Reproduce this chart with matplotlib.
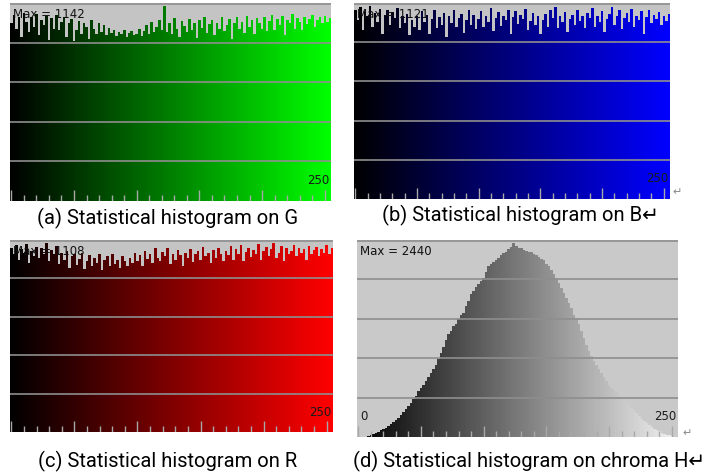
import numpy as np
import matplotlib
matplotlib.use("Agg")
import matplotlib.pyplot as plt

# histogram bins (2 grey levels per bar), 0..255
bins = np.arange(0, 256, 2)

# (a) G channel counts
hist_g = [
    1040, 1090, 1010, 1075, 960, 1100, 1050, 990, 1080, 1020,
    1095, 970, 1060, 1030, 1085, 945, 1070, 1010, 1090, 1000,
    1050, 1080, 960, 1040, 1065, 935, 1000, 1055, 980, 1045,
    1020, 950, 1060, 1005, 975, 1040, 990, 1030, 970, 1015,
    985, 1000, 965, 990, 975, 1000, 960, 985, 995, 970,
    980, 1010, 965, 995, 1030, 975, 1050, 990, 1020, 1060,
    1000, 1142, 990, 1045, 980, 1070, 1010, 960, 1055, 1025,
    990, 1065, 1000, 1040, 955, 1060, 1015, 1075, 985, 1035,
    1060, 970, 1045, 1010, 1080, 995, 1030, 1065, 950, 1040,
    1075, 1005, 1050, 985, 1085, 1020, 1060, 975, 1070, 1040,
    1010, 1080, 995, 1055, 1090, 1000, 1065, 1030, 1085, 970,
    1060, 1040, 1095, 1010, 1070, 1050, 1000, 1080, 1035, 1065,
    1090, 1020, 1060, 1075, 1040, 1085, 1050, 1070,
]

# (b) B channel counts
hist_b = [
    1100, 1040, 1115, 980, 1090, 1060, 1121, 1000, 1080, 1030,
    1105, 960, 1070, 1095, 1010, 1085, 1050, 1110, 990, 1060,
    1020, 1075, 950, 1040, 1000, 1060, 980, 1090, 1030, 1070,
    960, 1045, 1100, 990, 1055, 1010, 1080, 940, 1065, 1020,
    1095, 1000, 1050, 1075, 965, 1040, 1100, 1010, 1070, 985,
    1045, 1090, 1000, 1060, 1030, 1110, 975, 1050, 1085, 1005,
    1065, 1040, 1100, 960, 1055, 1090, 1015, 1070, 1045, 1105,
    980, 1035, 1080, 1010, 1060, 955, 1040, 1075, 1000, 1095,
    1050, 1115, 990, 1060, 1030, 1085, 970, 1045, 1070, 1010,
    1100, 1035, 1065, 990, 1080, 1050, 1110, 1000, 1060, 1025,
    1090, 970, 1045, 1075, 1115, 1010, 1060, 1095, 985, 1050,
    1080, 1030, 1105, 1000, 1065, 1040, 1090, 960, 1055, 1100,
    1020, 1070, 1045, 1085, 1010, 1060, 1035, 1075,
]

# (c) R channel counts
hist_r = [
    1080, 1040, 1095, 1010, 1070, 1050, 1100, 990, 1060, 1030,
    1085, 1020, 1075, 1045, 1108, 1000, 1065, 1040, 1090, 985,
    1050, 1010, 1060, 960, 1030, 1045, 980, 1015, 1050, 955,
    1000, 1035, 970, 1020, 990, 1045, 950, 1010, 1030, 975,
    1040, 985, 1005, 960, 1030, 1000, 975, 1020, 990, 1050,
    1000, 1035, 970, 1060, 1015, 1045, 990, 1075, 1020, 1000,
    1055, 1030, 1080, 985, 1045, 1010, 1065, 1035, 975, 1050,
    1020, 1070, 995, 1040, 1060, 1005, 1085, 1030, 1050, 990,
    1065, 1020, 1075, 1045, 1000, 1060, 1035, 1090, 1010, 1070,
    1040, 1095, 1000, 1055, 1080, 1025, 1065, 1045, 1100, 1010,
    1060, 1085, 1030, 1070, 1105, 1020, 1050, 1090, 1000, 1075,
    1045, 1060, 1095, 1030, 1080, 1050, 1070, 1010, 1090, 1040,
    1065, 1085, 1030, 1070, 1050, 1095, 1040, 1075,
]

# (d) chroma H counts
hist_h = [
    0, 0, 0, 5, 15, 25, 35, 50, 65, 85,
    95, 115, 140, 160, 185, 215, 245, 280, 315, 350,
    390, 430, 475, 520, 575, 620, 650, 710, 750, 800,
    860, 900, 980, 1060, 1130, 1220, 1290, 1330, 1390, 1420,
    1480, 1530, 1560, 1650, 1710, 1800, 1830, 1880, 1920, 1960,
    2000, 2070, 2150, 2180, 2200, 2230, 2250, 2290, 2310, 2320,
    2360, 2390, 2440, 2400, 2370, 2380, 2350, 2340, 2330, 2320,
    2300, 2290, 2260, 2240, 2230, 2180, 2150, 2100, 2050, 1990,
    1930, 1870, 1810, 1750, 1690, 1620, 1540, 1480, 1420, 1330,
    1240, 1160, 1080, 1020, 960, 900, 850, 800, 760, 710,
    660, 620, 590, 560, 530, 490, 460, 430, 400, 370,
    340, 300, 260, 230, 200, 170, 145, 120, 100, 85,
    70, 55, 40, 30, 20, 10, 0, 0,
]

captions = ["(a) Statistical histogram on G", "(b) Statistical histogram on B\u21b5",
            "(c) Statistical histogram on R", "(d) Statistical histogram on chroma H\u21b5"]
max_labels = ["Max = 1142", "Max = 1121", "Max = 1108", "Max = 2440"]

t = bins / 255.0
colors_g = [(0, v, 0) for v in t]
colors_b = [(0, 0, v) for v in t]
colors_r = [(v, 0, 0) for v in t]
colors_h = [(0.95 * v, 0.95 * v, 0.95 * v) for v in t]

fig = plt.figure(figsize=(7.11, 4.75), dpi=100)
fig.patch.set_facecolor('white')

# axes boxes in figure fractions
boxes = [
    [0.0141, 0.5768, 0.4515, 0.4168],
    [0.4979, 0.5810, 0.4444, 0.4127],
    [0.0141, 0.0905, 0.4543, 0.4042],
    [0.5021, 0.0800, 0.4515, 0.4147],
]
data = [hist_g, hist_b, hist_r, hist_h]
cols = [colors_g, colors_b, colors_r, colors_h]
bgs = ['#c4c4c4', '#c4c4c4', '#c4c4c4', '#c9c9c9']

for i in range(4):
    ax = fig.add_axes(boxes[i])
    ax.set_facecolor(bgs[i])
    vals = data[i]
    top = max(vals) * 1.015
    ax.bar(bins, vals, width=2.1, align='edge', color=cols[i], linewidth=0)
    ax.set_xlim(0, 256)
    ax.set_ylim(0, top)
    for f in (0.2, 0.4, 0.6, 0.8, 0.995):
        ax.axhline(f * top, color='#8e8e8e', lw=1.2)
    # small tick marks along the bottom
    for v in range(0, 256, 10):
        h = 0.055 if v % 50 == 0 else 0.03
        ax.vlines(v + 1, 0, h, transform=ax.get_xaxis_transform(),
                  color='#a8a8a8', lw=1)
    for s in ax.spines.values():
        s.set_visible(False)
    ax.set_xticks([])
    ax.set_yticks([])
    ax.text(0.01, 0.975, max_labels[i], transform=ax.transAxes, ha='left', va='top',
            fontsize=8.5, color='#111111', family='DejaVu Sans')
    ax.text(0.995, 0.07, '250', transform=ax.transAxes, ha='right', va='bottom',
            fontsize=8.5, color='#1a1a1a', family='DejaVu Sans')
    if i == 3:
        ax.text(0.01, 0.07, '0', transform=ax.transAxes, ha='left', va='bottom',
                fontsize=8.5, color='#1a1a1a', family='DejaVu Sans')

# captions under each panel
cap_font = ['Roboto', 'DejaVu Sans']
fig.text(168 / 711, 1 - 218 / 475, captions[0], ha='center', va='center', fontsize=14.5, family=cap_font)
fig.text(520 / 711, 1 - 215 / 475, captions[1], ha='center', va='center', fontsize=14.5, family=cap_font)
fig.text(168 / 711, 1 - 461 / 475, captions[2], ha='center', va='center', fontsize=14.5, family=cap_font)
fig.text(529 / 711, 1 - 461 / 475, captions[3], ha='center', va='center', fontsize=14.5, family=cap_font)

# paragraph marks next to right panels
fig.text(677 / 711, 1 - 192 / 475, '\u21b5', ha='center', va='center', fontsize=8,
         color='#888888', family='DejaVu Sans')
fig.text(687 / 711, 1 - 433 / 475, '\u21b5', ha='center', va='center', fontsize=8,
         color='#888888', family='DejaVu Sans')

fig.savefig('out.png', dpi=100)
